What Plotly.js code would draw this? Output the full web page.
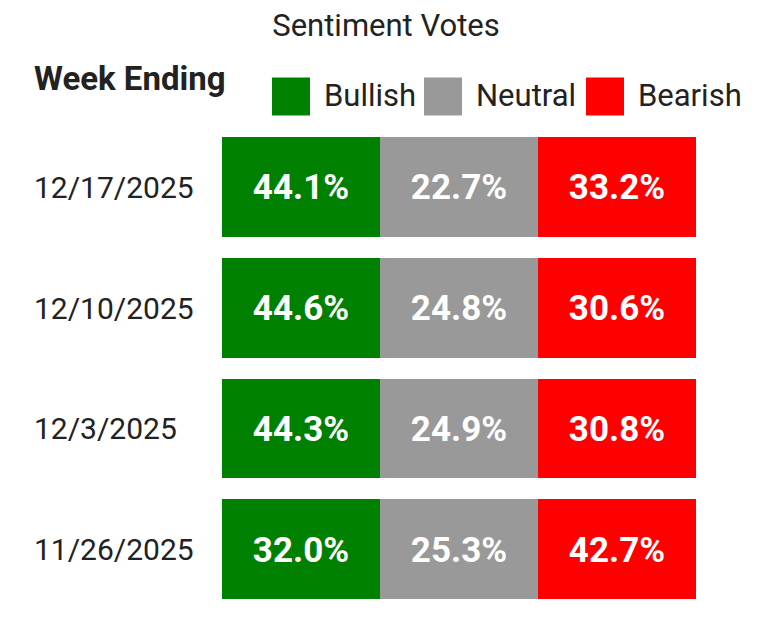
<!DOCTYPE html>
<html>
<head>
<meta charset="utf-8">
<script src="https://cdn.plot.ly/plotly-3.0.1.min.js"></script>
<style>html,body{margin:0;padding:0;background:#fff}</style>
</head>
<body>
<div id="chart" style="width:782px;height:634px"></div>
<script>
// ---- data ----
const weeks = ['12/17/2025', '12/10/2025', '12/3/2025', '11/26/2025'];
const seriesNames = ['Bullish', 'Neutral', 'Bearish'];
const bullish = [44.1, 44.6, 44.3, 32.0];
const neutral = [22.7, 24.8, 24.9, 25.3];
const bearish = [33.2, 30.6, 30.8, 42.7];
const seriesColors = ['#008000', '#999999', '#ff0000'];

// ---- layout constants (pixels) ----
const W = 782, H = 634;
const L = 222, R = 86, T = 126.5, B = 23.5;
const PW = W - L - R, PH = H - T - B;
const px2x = p => (p - L) / PW;
const py2y = p => 1 - (p - T) / PH;
const FONT = 'Roboto, "Open Sans", sans-serif';
const TXT = '#222222';

const values = weeks.map((w, i) => [bullish[i], neutral[i], bearish[i]]);
const zIdx = weeks.map(() => seriesNames.map((s, j) => j));
const text = values.map(r => r.map(v => v.toFixed(1) + '%'));

const trace = {
  type: 'heatmap',
  x: seriesNames,
  y: weeks,
  z: zIdx,
  text: text,
  texttemplate: '%{text}',
  textfont: {family: FONT, size: 35, color: '#ffffff', weight: 'bold'},
  colorscale: [[0, seriesColors[0]], [0.5, seriesColors[1]], [1, seriesColors[2]]],
  zmin: 0, zmax: 2,
  showscale: false,
  ygap: 21,
  xgap: 0,
  hoverinfo: 'skip'
};

const annotations = weeks.map(w => ({
  xref: 'paper', yref: 'y', x: px2x(32), y: w,
  xanchor: 'left', yanchor: 'middle', showarrow: false,
  text: w, font: {family: FONT, size: 30, color: TXT}
}));
annotations.push({
  xref: 'paper', yref: 'paper', x: px2x(32), y: py2y(78),
  xanchor: 'left', yanchor: 'middle', showarrow: false,
  text: '<b>Week Ending</b>', font: {family: FONT, size: 33, color: TXT}
});

// legend (decorative keys)
const legendSquareX = [272, 424, 586];
const sq = 38, sqTop = 77;
const shapes = [];
seriesNames.forEach((s, j) => {
  shapes.push({
    type: 'rect', xref: 'paper', yref: 'paper',
    x0: px2x(legendSquareX[j]), x1: px2x(legendSquareX[j] + sq),
    y0: py2y(sqTop + sq), y1: py2y(sqTop),
    fillcolor: seriesColors[j], line: {width: 0}
  });
  annotations.push({
    xref: 'paper', yref: 'paper', x: px2x(legendSquareX[j] + sq + 12), y: py2y(sqTop + sq / 2 - 1),
    xanchor: 'left', yanchor: 'middle', showarrow: false,
    text: s, font: {family: FONT, size: 31, color: TXT}
  });
});

const layout = {
  width: W, height: H,
  margin: {l: L, r: R, t: T, b: B, pad: 0},
  paper_bgcolor: '#ffffff', plot_bgcolor: '#ffffff',
  title: {
    text: 'Sentiment Votes', xref: 'container', yref: 'container',
    x: 386 / W, y: 1 - 25 / H, xanchor: 'center', yanchor: 'middle',
    font: {family: FONT, size: 31, color: TXT}
  },
  xaxis: {visible: false, type: 'category', range: [-0.5, 2.5], fixedrange: true},
  yaxis: {visible: false, type: 'category', autorange: 'reversed', fixedrange: true},
  annotations: annotations,
  shapes: shapes,
  showlegend: false
};

Plotly.newPlot('chart', [trace], layout, {displayModeBar: false, staticPlot: true});
</script>
</body>
</html>
